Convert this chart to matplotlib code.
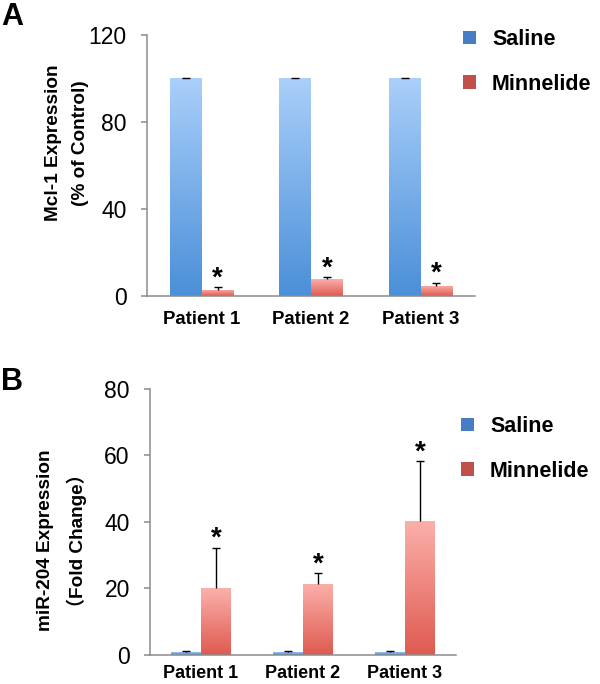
import numpy as np
import matplotlib
matplotlib.use('Agg')
import matplotlib.pyplot as plt
from matplotlib.colors import LinearSegmentedColormap
from matplotlib.patches import Patch

plt.rcParams['font.family'] = ['Liberation Sans', 'Noto Sans CJK SC', 'DejaVu Sans']

# data
patients = ['Patient 1', 'Patient 2', 'Patient 3']
groups = ['Saline', 'Minnelide']

mcl1_saline = [100, 100, 100]
mcl1_saline_err = [0.3, 0.3, 0.3]
mcl1_minn = [2.8, 7.7, 4.7]
mcl1_minn_err = [1.3, 0.9, 1.4]

mir_saline = [1.0, 1.0, 1.0]
mir_saline_err = [0.3, 0.3, 0.3]
mir_minn = [20.0, 21.4, 40.3]
mir_minn_err = [12.3, 3.2, 18.0]

# colours
blue_top, blue_bot = '#aacffa', '#4a8fd8'
red_top, red_bot = '#fbb0ab', '#df5a50'
blue_leg, red_leg = '#467dc3', '#c0504d'
axis_grey = '#8c8c8c'


def gradient_bars(ax, bars, top, bottom):
    cmap = LinearSegmentedColormap.from_list('g', [bottom, top])
    grad = np.linspace(0, 1, 256)[:, None]
    for b in bars:
        x0, y0 = b.get_xy()
        im = ax.imshow(grad, extent=[x0, x0 + b.get_width(), y0, y0 + b.get_height()],
                       origin='lower', aspect='auto', cmap=cmap, zorder=2)
        im.set_clip_path(b)


def upper_err(ax, x, vals, errs):
    # only the upper half of the error bar, like the original
    _, caps, _ = ax.errorbar(x, vals, yerr=[np.zeros(len(vals)), errs], fmt='none',
                             ecolor='black', elinewidth=1.0, capsize=3.2, capthick=1.0,
                             zorder=3)
    caps[0].set_visible(False)


def panel(ax, sal, sal_err, minn, minn_err, ymax, yticks, ylabel, label_xy, tick_fs, xpad):
    x = np.arange(len(patients))
    w = 0.29
    b1 = ax.bar(x - w / 2, sal, w, facecolor='none', edgecolor='none')
    b2 = ax.bar(x + w / 2, minn, w, facecolor='none', edgecolor='none')
    gradient_bars(ax, b1, blue_top, blue_bot)
    gradient_bars(ax, b2, red_top, red_bot)
    upper_err(ax, x - w / 2, sal, sal_err)
    upper_err(ax, x + w / 2, minn, minn_err)
    for xi, v, e in zip(x + w / 2, minn, minn_err):
        ax.annotate('*', (xi, v + e), xytext=(0, -3), textcoords='offset points',
                    ha='center', va='bottom', fontsize=20, fontweight='bold')
    ax.set_xlim(-0.5, len(patients) - 0.5)
    ax.set_ylim(0, ymax)
    ax.set_yticks(yticks)
    ax.set_xticks(x)
    ax.set_xticklabels(patients, fontsize=tick_fs, fontweight='bold')
    ax.tick_params(axis='x', length=0, pad=xpad)
    ax.tick_params(axis='y', length=4, width=1.1, color=axis_grey, labelsize=16.5, pad=10.5)
    for s in ['top', 'right']:
        ax.spines[s].set_visible(False)
    for s in ['left', 'bottom']:
        ax.spines[s].set_color(axis_grey)
        ax.spines[s].set_linewidth(1.1)
    ax.set_ylabel(ylabel, fontsize=13.7, fontweight='bold', linespacing=1.8)
    ax.yaxis.set_label_coords(*label_xy)


fig = plt.figure(figsize=(6, 6.84), dpi=100)
axA = fig.add_axes([0.245, 0.567, 0.547, 0.382])
axB = fig.add_axes([0.25, 0.0424, 0.51, 0.389])

panel(axA, mcl1_saline, mcl1_saline_err, mcl1_minn, mcl1_minn_err, 120, [0, 40, 80, 120],
      'Mcl-1 Expression\n(% of Control)', (-0.177, 0.586), 13.4, 11)
panel(axB, mir_saline, mir_saline_err, mir_minn, mir_minn_err, 80, [0, 20, 40, 60, 80],
      'miR-204 Expression\n\uff08Fold Change\uff09', (-0.206, 0.43), 13, 7.5)

handles = [Patch(facecolor=blue_leg, edgecolor='none'), Patch(facecolor=red_leg, edgecolor='none')]
for anchor in [(463 / 600, 1 - 29 / 684), (461 / 600, 1 - 416 / 684)]:
    fig.legend(handles, groups, loc='upper left', bbox_to_anchor=anchor,
               frameon=False, prop={'weight': 'bold', 'size': 15.5}, handlelength=0.6,
               handleheight=0.6, handletextpad=0.75, labelspacing=1.1, borderpad=0,
               borderaxespad=0)

fig.text(1 / 600, 1 - 25 / 684, 'A', fontsize=22, fontweight='bold')
fig.text(1 / 600, 1 - 390 / 684, 'B', fontsize=22, fontweight='bold')

fig.savefig('out.png', dpi=100)
